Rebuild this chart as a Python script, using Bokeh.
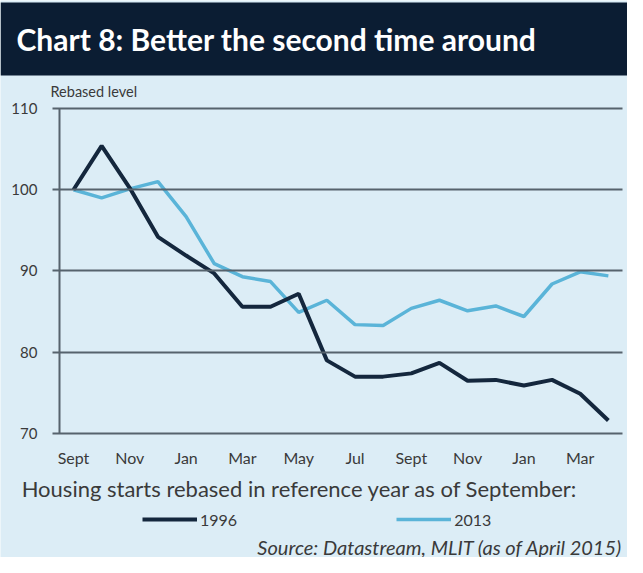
from bokeh.plotting import figure
from bokeh.models import (Range1d, FixedTicker, Label, BoxAnnotation, Legend, LegendItem)
from bokeh.embed import file_html
from bokeh.resources import INLINE

# ---- data ----
months = ["Sept", "Oct", "Nov", "Dec", "Jan", "Feb", "Mar", "Apr", "May", "Jun",
          "Jul", "Aug", "Sept", "Oct", "Nov", "Dec", "Jan", "Feb", "Mar", "Apr"]
month_idx = list(range(len(months)))
y1996 = [100, 105.4, 100.2, 94.2, 91.9, 89.7, 85.6, 85.6, 87.2, 79.0,
         77.0, 77.0, 77.4, 78.7, 76.5, 76.6, 75.9, 76.6, 74.9, 71.6]
y2013 = [100, 99.0, 100.1, 101.0, 96.7, 90.9, 89.3, 88.7, 84.9, 86.4,
         83.4, 83.3, 85.4, 86.4, 85.1, 85.7, 84.4, 88.4, 89.9, 89.4]
x_ticks = [0, 2, 4, 6, 8, 10, 12, 14, 16, 18]
y_ticks = [70, 80, 90, 100, 110]

title_text = "Chart 8: Better the second time around"
ylabel_text = "Rebased level"
subtitle_text = "Housing starts rebased  in reference year as of September:"
source_text = "Source: Datastream, MLIT (as of April 2015)"

BG = "#dcedf6"
NAVY = "#0b1d33"
DARK = "#14273d"
LIGHT = "#5ab4d8"
GRID = "#56636d"
TXT = "#3a3a3a"
FONT = "Lato"

W, H = 627, 557
p = figure(width=W, height=H, output_backend="svg", toolbar_location=None,
           x_range=Range1d(-2.593, 19.680), y_range=Range1d(54.74, 123.29),
           min_border=0)
p.background_fill_color = BG
p.border_fill_color = BG
p.outline_line_color = None
p.grid.visible = False

# y axis: drawn at the left edge of the category area; its ticks act as gridlines
p.yaxis.fixed_location = -0.5
p.yaxis.bounds = (70, 110)
p.yaxis.ticker = FixedTicker(ticks=y_ticks)
p.yaxis.axis_line_color = GRID
p.yaxis.axis_line_width = 2
p.yaxis.major_tick_line_color = GRID
p.yaxis.major_tick_line_width = 2
p.yaxis.major_tick_out = 7
p.yaxis.major_tick_in = 563
p.yaxis.minor_tick_line_color = None
p.yaxis.major_label_standoff = 15
p.yaxis.major_label_text_font = FONT
p.yaxis.major_label_text_font_size = "15px"
p.yaxis.major_label_text_color = TXT

# x axis at the bottom of the value range
p.xaxis.fixed_location = 70
p.xaxis.ticker = FixedTicker(ticks=x_ticks)
p.xaxis.major_label_overrides = {i: months[i] for i in x_ticks}
p.xaxis.axis_line_color = None
p.xaxis.major_tick_line_color = None
p.xaxis.minor_tick_line_color = None
p.xaxis.major_tick_out = 0
p.xaxis.major_tick_in = 0
p.xaxis.major_label_standoff = 14
p.xaxis.major_label_text_font = FONT
p.xaxis.major_label_text_font_size = "16px"
p.xaxis.major_label_text_color = TXT

# lines
r13 = p.line(month_idx, y2013, line_color=LIGHT, line_width=3.5)
r96 = p.line(month_idx, y1996, line_color=DARK, line_width=4)

# title band
band = BoxAnnotation(top=555, bottom=482, top_units="screen", bottom_units="screen",
                     fill_color=NAVY, fill_alpha=1, line_color=None, level="underlay")
p.add_layout(band)

p.add_layout(Label(x=16, y=519, x_units="screen", y_units="screen", text=title_text,
                   text_font=FONT, text_font_style="bold", text_font_size="30px",
                   text_color="white", text_baseline="middle", text_align="left"))
p.add_layout(Label(x=50, y=466, x_units="screen", y_units="screen", text=ylabel_text,
                   text_font=FONT, text_font_size="14.5px", text_color=TXT,
                   text_baseline="middle", text_align="left"))
p.add_layout(Label(x=302, y=69, x_units="screen", y_units="screen", text=subtitle_text,
                   text_font=FONT, text_font_size="22px", text_color=TXT,
                   text_baseline="middle", text_align="center"))
p.add_layout(Label(x=622, y=11, x_units="screen", y_units="screen", text=source_text,
                   text_font=FONT, text_font_style="italic", text_font_size="20px",
                   text_color=TXT, text_baseline="middle", text_align="right"))

legend = Legend(items=[LegendItem(label="1996", renderers=[r96]),
                       LegendItem(label="2013", renderers=[r13])],
                orientation="horizontal", location=(142, 28), spacing=159,
                padding=0, margin=0, border_line_color=None, background_fill_alpha=0,
                glyph_width=55, glyph_height=20, label_height=20, label_standoff=3,
                label_text_font=FONT, label_text_font_size="16px", label_text_color=TXT)
p.add_layout(legend)

open("out.html", "w").write(file_html(p, INLINE))
